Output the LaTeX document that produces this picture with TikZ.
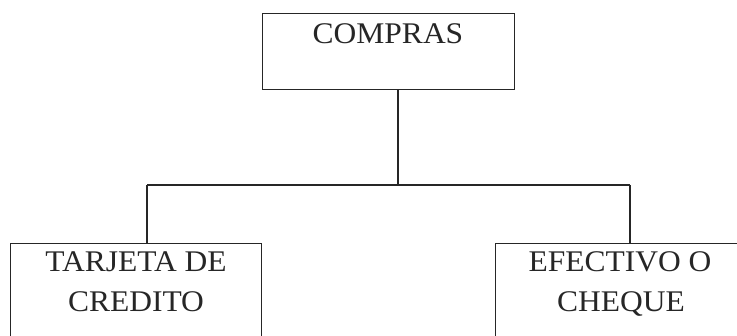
\documentclass[tikz,border=0pt]{standalone}
\usepackage{fontspec}
\setmainfont{Liberation Serif}[FakeStretch=1.05]
\begin{document}
\begin{tikzpicture}[x=1pt,y=-1pt,
  box/.style={draw=black!85, line width=1.3pt, rectangle, inner sep=0pt, anchor=north west},
  lbl/.style={font=\fontsize{30}{40}\selectfont, text=black!85, inner sep=0pt, anchor=base},
  conn/.style={draw=black!85, line width=1.3pt}]
\useasboundingbox (0,0) rectangle (737,336);
\clip (0,0) rectangle (737,336);
\fill[white] (0,0) rectangle (737,336);
\node[box, minimum width=252pt, minimum height=76pt] (top) at (262,13) {};
\node[lbl] (topt) at (388,44) {COMPRAS};
\node[box, minimum width=251pt, minimum height=150pt] (L) at (10,243) {};
\node[lbl] (l1) at (136,272) {TARJETA DE};
\node[lbl] (l2) at (136,312) {CREDITO};
\node[box, minimum width=251pt, minimum height=150pt] (R) at (495,243) {};
\node[lbl] (r1) at (620,272) {EFECTIVO O};
\node[lbl] (r2) at (621,312) {CHEQUE};
\coordinate (j) at (398,185);
\coordinate (jl) at (147,185);
\coordinate (jr) at (630,185);
\draw[conn] (j |- top.south) -- (j);
\draw[conn] (jl) -- (jr);
\draw[conn] (jl) -- (jl |- L.north);
\draw[conn] (jr) -- (jr |- R.north);
\end{tikzpicture}
\end{document}
